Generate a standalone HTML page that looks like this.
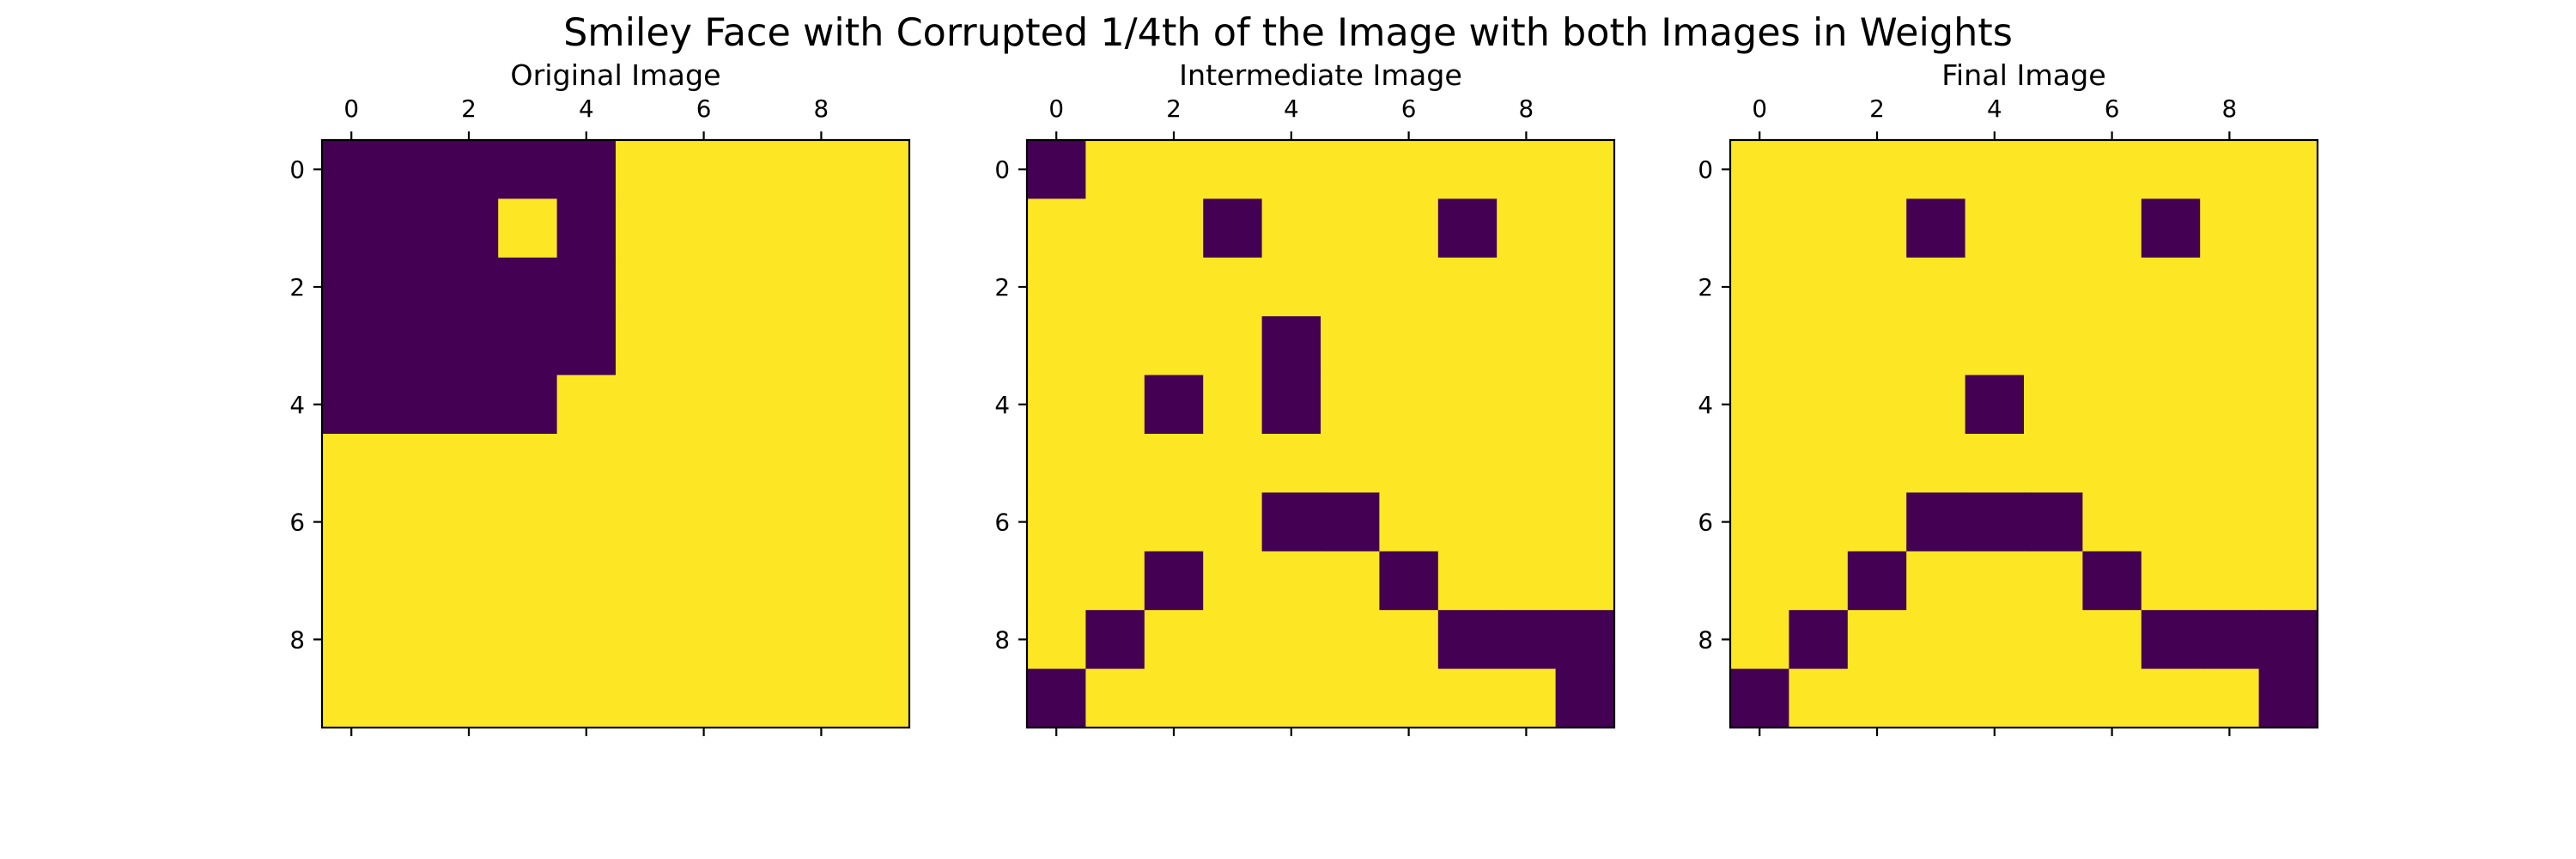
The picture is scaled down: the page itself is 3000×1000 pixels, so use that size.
<!DOCTYPE html>
<html><head><meta charset="utf-8"><style>
html,body{margin:0;padding:0;background:#fff;}
svg{display:block;font-family:"DejaVu Sans","Liberation Sans",sans-serif;}
</style></head><body>
<svg id="fig" width="3000" height="1000" viewBox="0 0 3000 1000">
<text x="1500" y="53" text-anchor="middle" font-size="44.5">Smiley Face with Corrupted 1/4th of the Image with both Images in Weights</text>
</svg>
<script>
const panelTitles = ["Original Image", "Intermediate Image", "Final Image"];
const panelNames = ["original", "intermediate", "final"];
const tickLabels = [0, 2, 4, 6, 8];
const originalImage = [
 [0,0,0,0,0,1,1,1,1,1],
 [0,0,0,1,0,1,1,1,1,1],
 [0,0,0,0,0,1,1,1,1,1],
 [0,0,0,0,0,1,1,1,1,1],
 [0,0,0,0,1,1,1,1,1,1],
 [1,1,1,1,1,1,1,1,1,1],
 [1,1,1,1,1,1,1,1,1,1],
 [1,1,1,1,1,1,1,1,1,1],
 [1,1,1,1,1,1,1,1,1,1],
 [1,1,1,1,1,1,1,1,1,1]];
const intermediateImage = [
 [0,1,1,1,1,1,1,1,1,1],
 [1,1,1,0,1,1,1,0,1,1],
 [1,1,1,1,1,1,1,1,1,1],
 [1,1,1,1,0,1,1,1,1,1],
 [1,1,0,1,0,1,1,1,1,1],
 [1,1,1,1,1,1,1,1,1,1],
 [1,1,1,1,0,0,1,1,1,1],
 [1,1,0,1,1,1,0,1,1,1],
 [1,0,1,1,1,1,1,0,0,0],
 [0,1,1,1,1,1,1,1,1,0]];
const finalImage = [
 [1,1,1,1,1,1,1,1,1,1],
 [1,1,1,0,1,1,1,0,1,1],
 [1,1,1,1,1,1,1,1,1,1],
 [1,1,1,1,1,1,1,1,1,1],
 [1,1,1,1,0,1,1,1,1,1],
 [1,1,1,1,1,1,1,1,1,1],
 [1,1,1,0,0,0,1,1,1,1],
 [1,1,0,1,1,1,0,1,1,1],
 [1,0,1,1,1,1,1,0,0,0],
 [0,1,1,1,1,1,1,1,1,0]];
const images = [originalImage, intermediateImage, finalImage];

const NS = "http://www.w3.org/2000/svg";
const svg = document.getElementById("fig");
const axLeft = [375, 1196, 2015];
const axTop = 163, axSize = 684;
function mk(tag, attrs, parent){
  const e = document.createElementNS(NS, tag);
  for (const k in attrs) e.setAttribute(k, attrs[k]);
  parent.appendChild(e);
  return e;
}
images.forEach((img, p) => {
  const g = mk("g", {}, svg);
  
  
  const x0 = axLeft[p];
  const n = img.length;
  const cs = axSize / n;
  const sx = v => x0 + (v + 0.5) * cs;
  const sy = v => axTop + (v + 0.5) * cs;
  img.forEach((row, r) => row.forEach((v, c) => {
    const rect = mk("rect", {x: sx(c) - cs/2, y: sy(r) - cs/2, width: cs + 0.6, height: cs + 0.6, fill: v ? "#fde725" : "#440154"}, g);
    
    
  }));
  const frame = mk("rect", {x: x0, y: axTop, width: axSize, height: axSize, fill: "none", stroke: "#000", "stroke-width": 2.2}, g);
  
  
  tickLabels.forEach(t => {
    const tx = sx(t);
    const a = mk("line", {x1: tx, x2: tx, y1: axTop, y2: axTop - 10, stroke: "#000", "stroke-width": 2.2}, g);
    
    
    const b = mk("line", {x1: tx, x2: tx, y1: axTop + axSize, y2: axTop + axSize + 10, stroke: "#000", "stroke-width": 2.2}, g);
    
    
    const lt = mk("text", {x: tx, y: axTop - 27, "text-anchor": "middle", "font-size": 27.8}, g);
    lt.textContent = t;
    
    
    const ty = sy(t);
    const c = mk("line", {x1: x0, x2: x0 - 10, y1: ty, y2: ty, stroke: "#000", "stroke-width": 2.2}, g);
    
    
    const ly = mk("text", {x: x0 - 20, y: ty + 10, "text-anchor": "end", "font-size": 27.8}, g);
    ly.textContent = t;
    
    
  });
  const tt = mk("text", {x: x0 + axSize/2, y: 99, "text-anchor": "middle", "font-size": 33.3}, g);
  tt.textContent = panelTitles[p];
  
  
});
</script>
</body></html>
